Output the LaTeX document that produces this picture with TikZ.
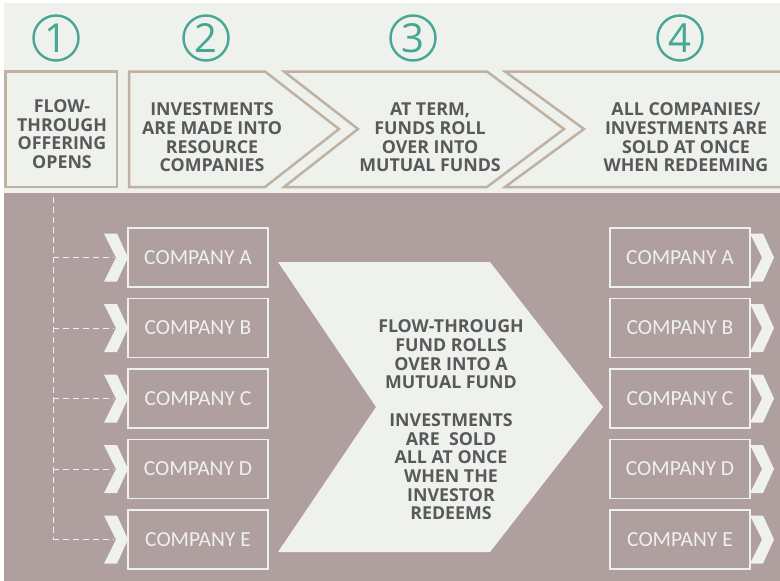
\documentclass[tikz,border=0pt]{standalone}
\usepackage{fontspec}
\setmainfont{Open Sans}
\newfontfamily\cofont{Carlito}
\usetikzlibrary{positioning}
\definecolor{paper}{HTML}{EFF1EC}
\definecolor{mauve}{HTML}{AF9F9E}
\definecolor{tanline}{HTML}{BFB2A3}
\definecolor{stepteal}{HTML}{45A796}
\definecolor{inkgray}{HTML}{58595B}

\tikzset{
    chevsmall/.pic={\fill[paper] (-24,-24) -- (-11,-24) -- (0,0) -- (-11,24) -- (-24,24) -- (-12,0) -- cycle;}
}

\begin{document}
\begin{tikzpicture}[x=1pt,y=-1pt,
    stepnum/.style={circle,draw=stepteal,line width=2.4pt,text=stepteal,
        minimum size=45pt,inner sep=0pt,font=\fontsize{40}{40}\selectfont},
    stagetxt/.style={text=inkgray,align=center,inner sep=0pt,
        font=\bfseries\fontsize{17.8}{18.6}\selectfont},
    stageline/.style={draw=tanline,line width=2.5pt,line join=miter},
    cobox/.style={draw=paper,line width=1.3pt,minimum width=140pt,minimum height=59pt,
        inner sep=0pt,outer sep=0pt,text=paper,font=\cofont\fontsize{21.5}{22}\selectfont},
    dashline/.style={draw=paper,line width=1pt,dash pattern=on 6pt off 4pt}]
    \useasboundingbox (0,0) rectangle (780,581);

    % backgrounds
    \fill[paper] (4,3) rectangle (780,193);
    \fill[mauve] (4,193) rectangle (780,581);

    % stage outlines
    \draw[stageline] (5.5,71.5) rectangle (117,187);
    \draw[stageline] (129,71.5) -- (265,71.5) -- (339,129) -- (265,187) -- (129,187) -- cycle;
    \draw[stageline] (284,71.5) -- (487,71.5) -- (564,129) -- (487,187) -- (284,187) -- (358,129) -- cycle;
    \draw[stageline] (781,71.5) -- (505,71.5) -- (584,129) -- (505,187) -- (781,187);

    % step numbers
    \node[stepnum] (n1) at (56,38) {1};
    \node[stepnum] (n2) at (206,38) {2};
    \node[stepnum] (n3) at (413,38) {3};
    \node[stepnum] (n4) at (680,38) {4};

    \node[stagetxt] (s1) at (62,134) {FLOW-\\THROUGH\\OFFERING\\OPENS};
    \node[stagetxt] (s2) at (212,137.5) {INVESTMENTS\\ARE MADE INTO\\RESOURCE\\COMPANIES};
    \node[stagetxt] (s3) at (430,137.5) {AT TERM,\\FUNDS ROLL\\OVER INTO\\MUTUAL FUNDS};
    \node[stagetxt] (s4) at (686,137.5) {ALL COMPANIES/\\INVESTMENTS ARE\\SOLD AT ONCE\\WHEN REDEEMING};

    % companies bought
    \node[cobox] (la) at (198,257.5) {COMPANY A};
    \node[cobox] (lb) [below=11.5pt of la] {COMPANY B};
    \node[cobox] (lc) [below=11.5pt of lb] {COMPANY C};
    \node[cobox] (ld) [below=11.5pt of lc] {COMPANY D};
    \node[cobox] (le) [below=11.5pt of ld] {COMPANY E};

    % companies sold
    \node[cobox] (ra) at (680,257.5) {COMPANY A};
    \node[cobox] (rb) [below=11.5pt of ra] {COMPANY B};
    \node[cobox] (rc) [below=11.5pt of rb] {COMPANY C};
    \node[cobox] (rd) [below=11.5pt of rc] {COMPANY D};
    \node[cobox] (re) [below=11.5pt of rd] {COMPANY E};

    \coordinate (trunk) at (53,197);
    \draw[dashline] (trunk) -- (trunk |- le.west);
    \foreach \n in {la,lb,lc,ld,le} {
        \draw[dashline] (trunk |- \n.west) -- ([xshift=-14pt]\n.west);
        \pic at (\n.west) {chevsmall};
    }
    \foreach \n in {ra,rb,rc,rd,re}
        \pic at ([xshift=24pt]\n.east) {chevsmall};

    % big roll-over arrow
    \fill[paper] (278,262) -- (490,262) -- (603,407) -- (490,552) -- (278,552) -- (376,407) -- cycle;
    \node[stagetxt,font=\bfseries\fontsize{17.8}{18.7}\selectfont] (mid) at (451,420)
        {FLOW-THROUGH\\FUND ROLLS\\OVER INTO A\\MUTUAL FUND\\[18.7pt]%
        INVESTMENTS\\ARE\ \ SOLD\\ALL AT ONCE\\WHEN THE\\INVESTOR\\REDEEMS};
\end{tikzpicture}
\end{document}
